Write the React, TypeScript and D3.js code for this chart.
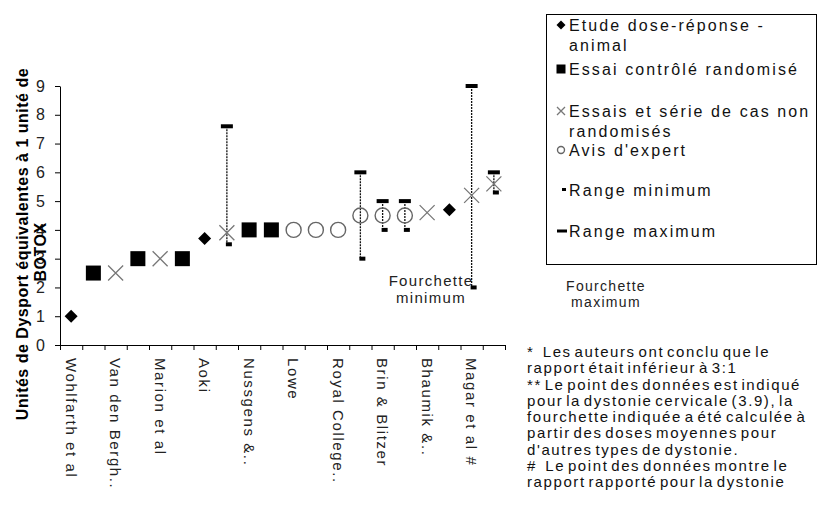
import { useEffect, useRef } from "react";
import * as d3 from "d3";

// one entry per study (only every other name is printed on the axis)
const studyLabels = [
    "Wohlfarth et al", "", "Van den Bergh..", "", "Marion et al", "", "Aoki", "",
    "Nussgens &..", "", "Lowe", "", "Royal College..", "", "Brin & Blitzer", "",
    "Bhaumik &..", "", "Magar et al #", "",
];
const studyTypes = [
    "diamond", "square", "cross", "square", "cross", "square", "diamond", "cross",
    "square", "square", "circle", "circle", "circle", "circle", "circle", "circle",
    "cross", "diamond", "cross", "cross",
];
const doseRatios = [1, 2.5, 2.5, 3, 3, 3, 3.7, 3.9, 4, 4, 4, 4, 4, 4.5, 4.5, 4.5, 4.6, 4.7, 5.2, 5.6];
const rangeMin = [null, null, null, null, null, null, null, 3.5, null, null, null, null, null, 3, 4, 4, null, null, 2, 5.3];
const rangeMax = [null, null, null, null, null, null, null, 7.6, null, null, null, null, null, 6, 5, 5, null, null, 9, 6];
const yTicks = [0, 1, 2, 3, 4, 5, 6, 7, 8, 9];

const legendTypes = ["diamond", "square", "cross", "circle", "min", "max"];
const legendTexts = [
    ["Etude dose-réponse -", "animal"],
    ["Essai contrôlé randomisé"],
    ["Essais et série de cas non", "randomisés"],
    ["Avis d'expert"],
    ["Range minimum"],
    ["Range maximum"],
];
const yTitle = ["Unités de Dysport équivalentes à 1 unité de", "BOTOX"];
const footnotes = [
    "*   Les auteurs ont conclu que le",
    "rapport était inférieur à 3:1",
    "** Le point des données est indiqué",
    "pour la dystonie cervicale (3.9), la",
    "fourchette indiquée a été calculée à",
    "partir des doses moyennes pour",
    "d'autres types de dystonie.",
    "#   Le point des données montre le",
    "rapport rapporté pour la dystonie",
];

const FONT = "'Liberation Sans', Arial, sans-serif";

function drawMarker(g: any, type: string, cx: number, cy: number, s: number) {
    if (type === "diamond") {
        g.append("path")
            .attr("d", d3.symbol(d3.symbolSquare, 2 * s * s)())
            .attr("transform", `translate(${cx},${cy}) rotate(45)`)
            .attr("fill", "#000");
    } else if (type === "square") {
        g.append("rect")
            .attr("x", cx - s)
            .attr("y", cy - s)
            .attr("width", 2 * s)
            .attr("height", 2 * s)
            .attr("fill", "#000");
    } else if (type === "cross") {
        g.append("path")
            .attr("d", `M${cx - s},${cy - s}L${cx + s},${cy + s}M${cx - s},${cy + s}L${cx + s},${cy - s}`)
            .attr("stroke", "#777")
            .attr("stroke-width", 1.3)
            .attr("fill", "none");
    } else if (type === "circle") {
        g.append("circle")
            .attr("cx", cx)
            .attr("cy", cy)
            .attr("r", s)
            .attr("stroke", "#666")
            .attr("stroke-width", 1.4)
            .attr("fill", "none");
    }
}

export default function App() {
    const svgRef = useRef<SVGSVGElement>(null);

    useEffect(() => {
        if (!svgRef.current) return;
        const svg = d3.select(svgRef.current);
        svg.selectAll("*").remove();

        const x = d3.scaleBand<number>().domain(d3.range(studyLabels.length)).range([60, 505]);
        const xEdges = d3.scaleLinear().domain([0, studyLabels.length]).range([60, 505]);
        const y = d3.scaleLinear().domain([0, 9]).range([345, 86]);
        const cx = (i: number) => x(i)! + x.bandwidth() / 2;

        // Y axis
        const yAxis = svg
            .append("g")
            .attr("transform", "translate(60,0)")
            .call(d3.axisLeft(y).tickValues(yTicks).tickSize(5).tickSizeOuter(0).tickPadding(10).tickFormat(d3.format("d")));
        yAxis.selectAll("text").attr("font-family", FONT).attr("font-size", 16).attr("fill", "#222");

        // X axis (ticks between studies)
        const xAxis = svg
            .append("g")
            .attr("transform", "translate(0,345)")
            .call(d3.axisBottom(xEdges).tickValues(d3.range(studyLabels.length + 1)).tickSize(5).tickSizeOuter(0).tickFormat(() => ""));
        xAxis.select(".domain").attr("stroke", "#000");

        studyLabels.forEach((label, i) => {
            if (!label) return;
            svg.append("text")
                .attr("transform", `translate(${cx(i)},358) rotate(90)`)
                .attr("dominant-baseline", "central")
                .attr("font-family", FONT)
                .attr("font-size", 15)
                .attr("letter-spacing", 1.6)
                .attr("fill", "#222")
                .text(label);
        });

        // Y title
        yTitle.forEach((line, i) => {
            svg.append("text")
                .attr("transform", `translate(${i === 0 ? 28 : 46},${i === 0 ? 244 : 252}) rotate(-90)`)
                .attr("text-anchor", "middle")
                .attr("font-family", FONT)
                .attr("font-size", 16)
                .attr("font-weight", "bold")
                .attr("letter-spacing", 0.5)
                .text(line);
        });

        // Range bars
        const bars = svg.append("g");
        doseRatios.forEach((_, i) => {
            const lo = rangeMin[i];
            const hi = rangeMax[i];
            if (lo == null || hi == null) return;
            bars.append("line")
                .attr("x1", cx(i))
                .attr("x2", cx(i))
                .attr("y1", y(hi))
                .attr("y2", y(lo))
                .attr("stroke", "#111")
                .attr("stroke-width", 1.3)
                .attr("stroke-dasharray", "2,1");
            bars.append("rect").attr("x", cx(i) - 6).attr("y", y(hi) - 2).attr("width", 12).attr("height", 4).attr("fill", "#000");
            bars.append("rect").attr("x", cx(i) - 1).attr("y", y(lo) - 2).attr("width", 6).attr("height", 4).attr("fill", "#000");
        });

        // Points
        const pts = svg.append("g");
        doseRatios.forEach((v, i) => {
            const t = studyTypes[i];
            const size = t === "square" ? 7.5 : t === "diamond" ? 6.5 : t === "cross" ? 7.5 : 7.5;
            drawMarker(pts, t, cx(i), y(v), size);
        });

        // Fourchette labels
        ["Fourchette", "minimum"].forEach((s, i) => {
            svg.append("text")
                .attr("x", 431)
                .attr("y", 286 + i * 17)
                .attr("text-anchor", "middle")
                .attr("font-family", FONT)
                .attr("font-size", 15)
                .attr("letter-spacing", 1.3)
                .attr("fill", "#222")
                .text(s);
        });
        ["Fourchette", "maximum"].forEach((s, i) => {
            svg.append("text")
                .attr("x", 606)
                .attr("y", 291 + i * 16)
                .attr("text-anchor", "middle")
                .attr("font-family", FONT)
                .attr("font-size", 14)
                .attr("letter-spacing", 1.3)
                .attr("fill", "#222")
                .text(s);
        });

        // Legend
        const legend = svg.append("g");
        legend.append("rect")
            .attr("x", 546.5)
            .attr("y", 14.5)
            .attr("width", 270)
            .attr("height", 250)
            .attr("fill", "#fff")
            .attr("stroke", "#000");
        const baselines = [31, 75, 117, 156, 196, 237];
        legendTypes.forEach((t, i) => {
            const b = baselines[i];
            const my = b - 6;
            if (t === "min") {
                legend.append("rect").attr("x", 562).attr("y", my - 2).attr("width", 4).attr("height", 3).attr("fill", "#000");
            } else if (t === "max") {
                legend.append("rect").attr("x", 557).attr("y", my - 1.5).attr("width", 10).attr("height", 3).attr("fill", "#000");
            } else {
                const s = t === "square" ? 4.5 : t === "diamond" ? 4.5 : t === "cross" ? 4 : 3.5;
                drawMarker(legend, t, 561, my, s);
            }
            legendTexts[i].forEach((line, j) => {
                legend.append("text")
                    .attr("x", 569)
                    .attr("y", b + j * 20)
                    .attr("font-family", FONT)
                    .attr("font-size", 16)
                    .attr("letter-spacing", 2.1)
                    .attr("fill", "#111")
                    .text(line);
            });
        });

        // Footnotes
        footnotes.forEach((line, i) => {
            svg.append("text")
                .attr("x", 527)
                .attr("y", 357 + i * 16.25)
                .attr("font-family", FONT)
                .attr("font-size", 15)
                .attr("letter-spacing", 1.6)
                .attr("word-spacing", -3)
                .style("white-space", "pre")
                .attr("fill", "#111")
                .text(line);
        });
    }, []);

    return (
        <svg
            ref={svgRef}
            width={817}
            height={513}
            style={{ position: "absolute", left: 0, top: 0, background: "#fff" }}
        />
    );
}
